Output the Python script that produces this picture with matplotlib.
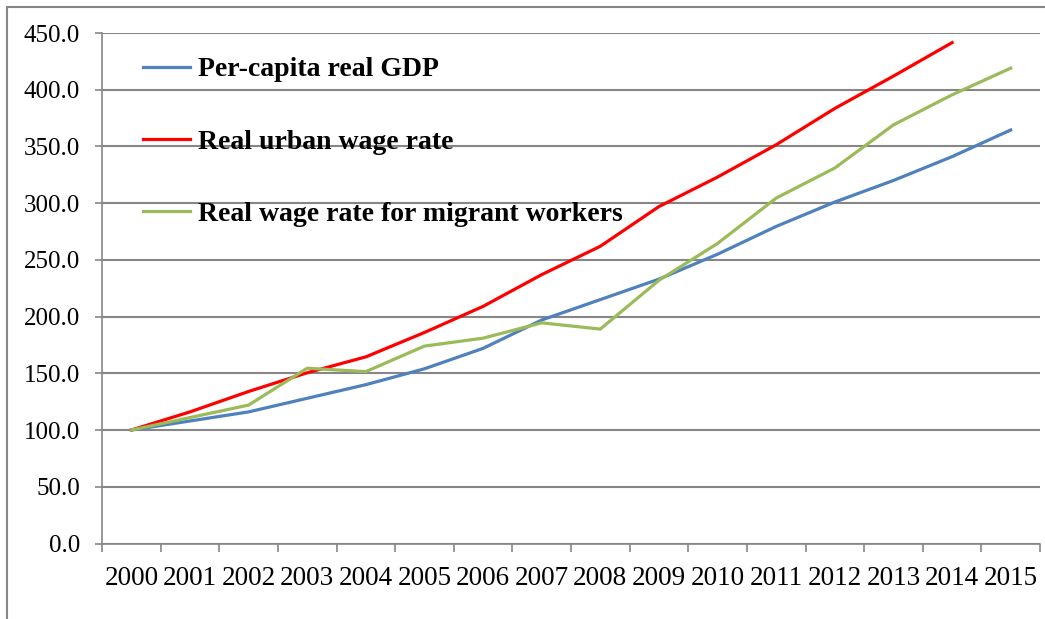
import numpy as np
import matplotlib.pyplot as plt
from matplotlib.patches import Rectangle

years = [str(y) for y in range(2000, 2016)]
gdp = [100.0, 108.0, 116.0, 128.0, 140.0, 154.0, 172.0, 197.0, 215.0, 233.0,
       255.0, 279.5, 301.0, 320.0, 341.0, 364.5]
urban = [100.0, 116.0, 134.0, 150.5, 164.5, 186.0, 209.0, 237.0, 262.0, 297.0,
         323.0, 351.5, 383.5, 412.0, 441.5]
migrant = [100.0, 111.0, 122.0, 154.5, 151.5, 174.0, 181.0, 194.5, 189.0, 232.0,
           264.5, 304.5, 331.0, 369.0, 395.5, 419.0]

names = ["Per-capita real GDP", "Real urban wage rate", "Real wage rate for migrant workers"]
colors = ["#4F81BD", "#FF0000", "#9BBB59"]
grey = "#868686"

plt.rcParams['font.family'] = ['Liberation Serif', 'DejaVu Serif']

fig = plt.figure(figsize=(10.45, 6.19), dpi=100)
ax = fig.add_axes([102 / 1045, 1 - 543.5 / 619, 938 / 1045, 510.5 / 619])

x = np.arange(len(years))
ax.plot(x, gdp, color=colors[0], lw=2.3, label=names[0])
ax.plot(x[:len(urban)], urban, color=colors[1], lw=2.3, label=names[1])
ax.plot(x, migrant, color=colors[2], lw=2.3, label=names[2])

ax.set_xlim(-0.5, len(years) - 0.5)
ax.set_ylim(0, 450)
ax.set_yticks(np.arange(0, 451, 50))
ax.set_yticklabels([f"{v:.1f}" for v in np.arange(0, 451, 50)], fontsize=18)
ax.yaxis.grid(True, color=grey, lw=1.5)
ax.set_axisbelow(True)

# labels at category centres, tick marks at category boundaries
ax.set_xticks(x)
ax.set_xticklabels(years, fontsize=19.5)
ax.set_xticks(np.arange(-0.5, len(years)), minor=True)
ax.tick_params(axis='x', which='major', length=0, pad=16)
ax.tick_params(axis='x', which='minor', length=6, color=grey, width=1.2)
ax.tick_params(axis='y', length=5, color=grey, width=1.2, pad=11)

for s in ['top', 'right']:
    ax.spines[s].set_visible(False)
for s in ['left', 'bottom']:
    ax.spines[s].set_color(grey)
    ax.spines[s].set_linewidth(1.2)

ax.legend(loc='upper left', bbox_to_anchor=(129 / 1045, 1 - 43 / 619),
          bbox_transform=fig.transFigure, frameon=False, borderpad=0,
          handlelength=1.7, handletextpad=0.3, labelspacing=1.69,
          prop={'family': 'Liberation Serif', 'weight': 'bold', 'size': 20})

# outer chart border
fig.patches.append(Rectangle((7 / 1045, -0.1), 1.2, 1 - 7 / 619 + 0.1,
                             transform=fig.transFigure, fill=False,
                             edgecolor=grey, lw=1.5))

fig.savefig("out.png", dpi=100)
